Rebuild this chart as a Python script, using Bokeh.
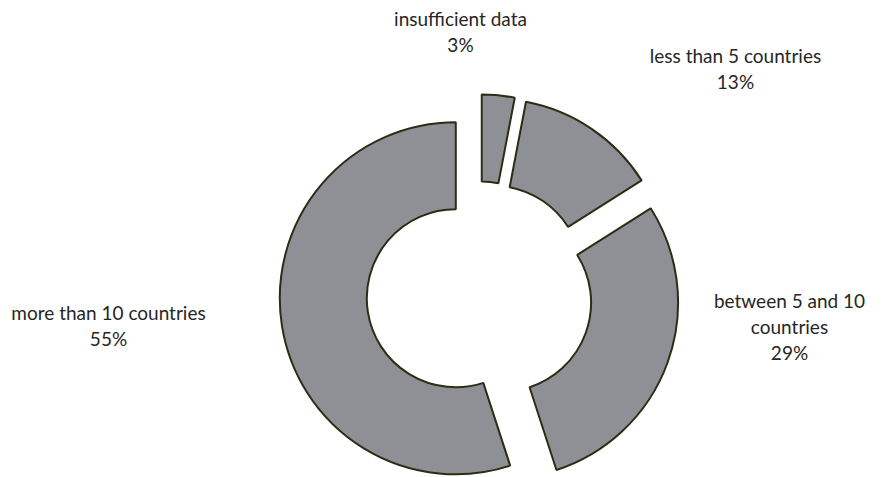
import math
from bokeh.plotting import figure
from bokeh.models import ColumnDataSource, Range1d
from bokeh.core.properties import value
from bokeh.embed import file_html
from bokeh.resources import INLINE

# ---- data ----
categories = ["insufficient data", "less than 5 countries",
              "between 5 and 10 countries", "more than 10 countries"]
shares = [3, 13, 29, 55]
wrapped_names = ["insufficient data", "less than 5 countries",
                 "between 5 and 10\ncountries", "more than 10 countries"]

# ---- layout (pixels) ----
W, H = 889, 477
CX, CY = 479, 183
R_OUT, R_IN, EXPLODE = 176, 89, 24
label_x = [460, 735, 789, 108]
label_y = [31, 68, 326, 325]  # from top

total = float(sum(shares))
xs, ys, starts, ends = [], [], [], []
cum = 0.0
for s in shares:
    a0 = cum / total
    cum += s
    a1 = cum / total
    st = math.pi / 2 - 2 * math.pi * a0
    en = math.pi / 2 - 2 * math.pi * a1
    mid = (st + en) / 2
    xs.append(CX + EXPLODE * math.cos(mid))
    ys.append(CY + EXPLODE * math.sin(mid))
    starts.append(st)
    ends.append(en)

src = ColumnDataSource(dict(x=xs, y=ys, start=starts, end=ends, cat=categories))

p = figure(width=W, height=H, x_range=Range1d(0, W), y_range=Range1d(0, H),
           output_backend="svg", toolbar_location=None, min_border=0)
p.axis.visible = False
p.grid.visible = False
p.outline_line_color = None
p.background_fill_color = "white"
p.border_fill_color = "white"

p.annular_wedge(x="x", y="y", inner_radius=R_IN, outer_radius=R_OUT,
                start_angle="start", end_angle="end", direction="clock",
                fill_color="#8f9096", line_color="#2b2d14", line_width=2,
                source=src)

labels = [f"{n}\n{s}%" for n, s in zip(wrapped_names, shares)]
lsrc = ColumnDataSource(dict(x=label_x, y=[H - v for v in label_y], t=labels))
p.text(x="x", y="y", text="t", source=lsrc, text_align="center",
       text_baseline="middle", text_font=value("Lato"), text_font_size="19px",
       text_color="#262626", text_line_height=1.12)

open("out.html", "w").write(file_html(p, INLINE))
